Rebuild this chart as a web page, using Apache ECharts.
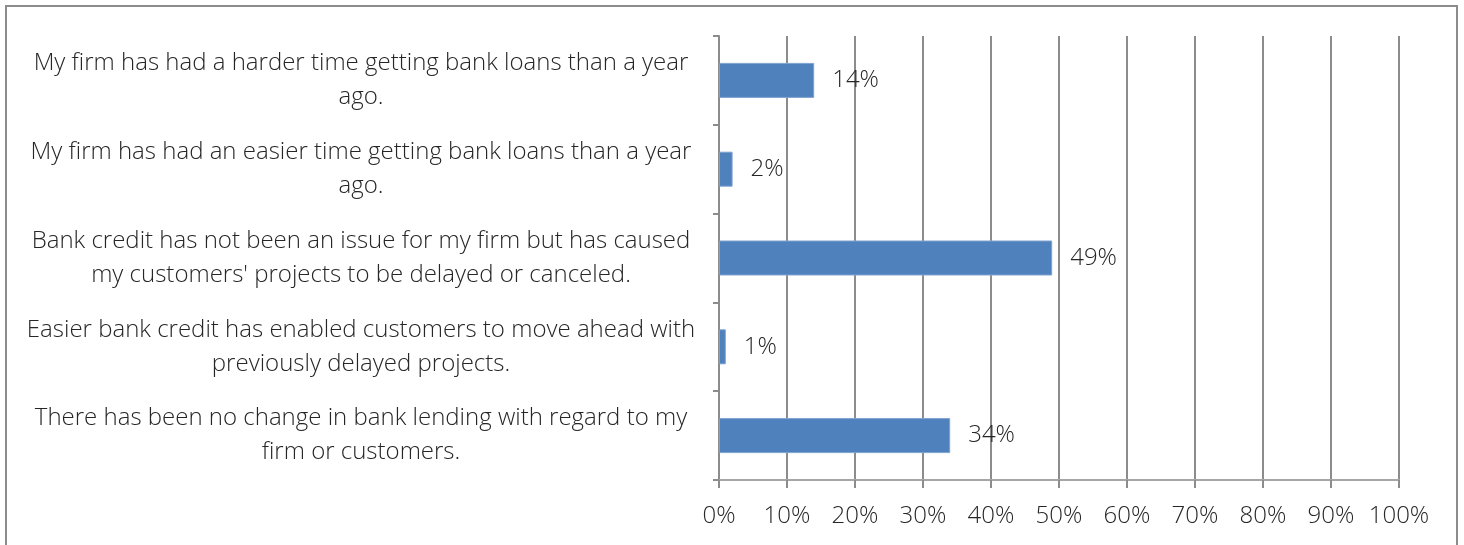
<!DOCTYPE html>
<html>
<head>
<meta charset="utf-8">
<script src="https://cdn.jsdelivr.net/npm/echarts@6/dist/echarts.min.js"></script>
<style>
html,body{margin:0;padding:0;background:#fff;}
#frame{position:absolute;left:5px;top:5px;width:1453px;height:560px;border:2px solid #8c8c8c;box-sizing:border-box;}
#chart{position:absolute;left:0;top:0;width:1464px;height:545px;}
</style>
</head>
<body>
<div id="frame"></div>
<div id="chart"></div>
<script>
const categories = [
  "My firm has had a harder time getting bank loans than a year\nago.",
  "My firm has had an easier time getting bank loans than a year\nago.",
  "Bank credit has not been an issue for my firm but has caused\nmy customers' projects to be delayed or canceled.",
  "Easier bank credit has enabled customers to move ahead with\npreviously delayed projects.",
  "There has been no change in bank lending with regard to my\nfirm or customers."
];
const values = [14, 2, 49, 1, 34];
const tickMin = 0, tickMax = 100, tickStep = 10;

const chart = echarts.init(document.getElementById('chart'), null, {renderer: 'canvas'});
const fontFamily = "'Open Sans', 'DejaVu Sans', sans-serif";
const textColor = '#262626';
chart.setOption({
  animation: false,
  grid: {left: 719, right: 65, top: 36, bottom: 65, containLabel: false},
  xAxis: {
    type: 'value', min: tickMin, max: tickMax, interval: tickStep,
    axisLine: {show: true, lineStyle: {color: '#a6a6a6', width: 2}},
    axisTick: {show: true, length: 8, lineStyle: {color: '#8c8c8c', width: 2}},
    splitLine: {show: true, lineStyle: {color: '#8c8c8c', width: 2}},
    axisLabel: {formatter: '{value}%', color: textColor, fontSize: 24, fontFamily: fontFamily, fontWeight: 300, margin: 24}
  },
  yAxis: {
    type: 'category', data: categories, inverse: true,
    axisLine: {show: true, lineStyle: {color: '#8c8c8c', width: 2}},
    axisTick: {show: true, length: 6, lineStyle: {color: '#8c8c8c', width: 2}},
    axisLabel: {color: textColor, fontSize: 24, fontFamily: fontFamily, fontWeight: 300, align: 'center', margin: 358, lineHeight: 34}
  },
  series: [{
    type: 'bar', data: values, barWidth: 35,
    itemStyle: {color: '#4f81bd', borderColor: '#7fa3d0', borderWidth: 1},
    label: {show: true, position: 'right', distance: 18, formatter: '{c}%', color: textColor, fontSize: 24, fontFamily: fontFamily, fontWeight: 300}
  }]
});
</script>
</body>
</html>
